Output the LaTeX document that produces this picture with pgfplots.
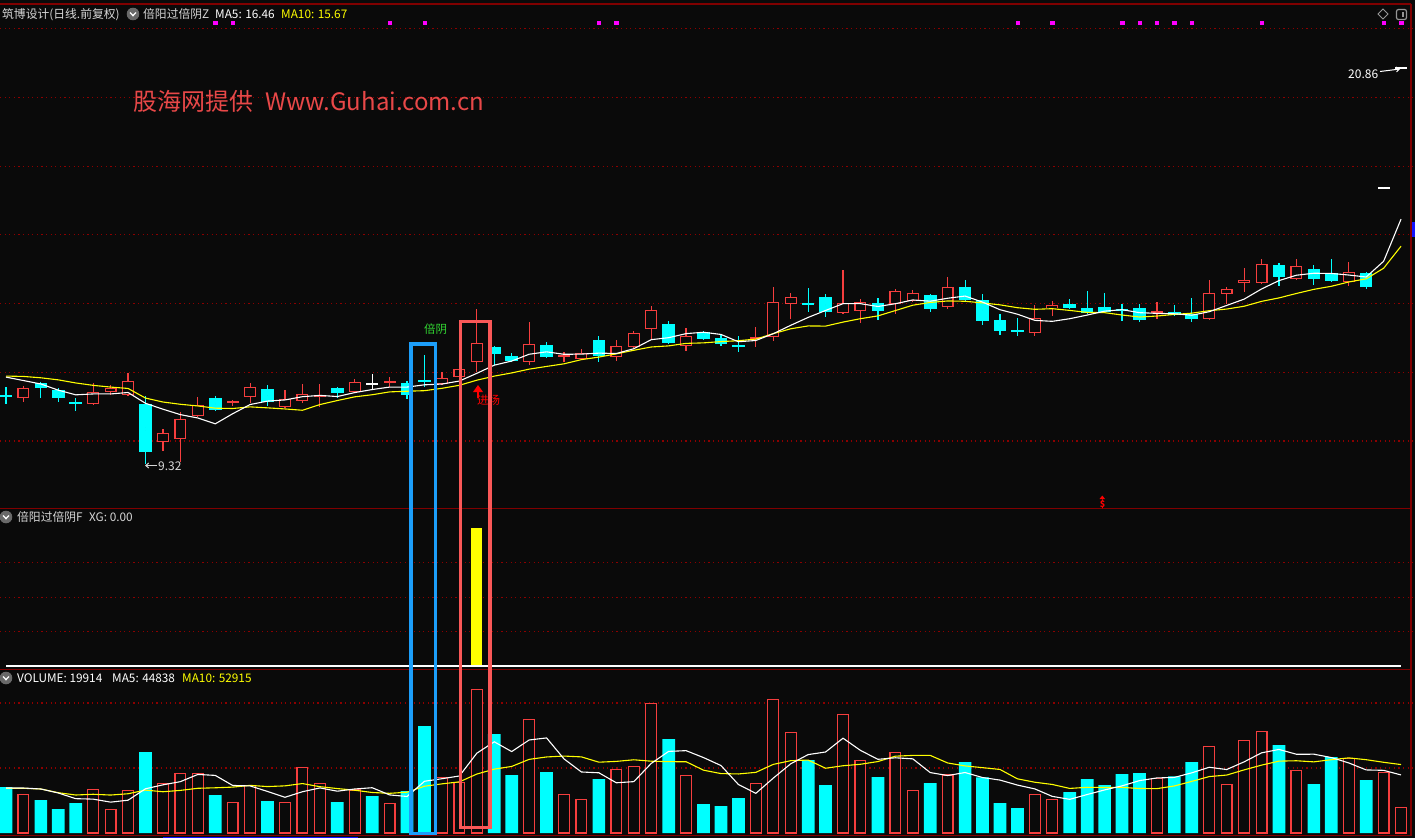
\documentclass[border=0pt]{standalone}
\usepackage{pgfplots}
\pgfplotsset{compat=1.18}
\usepackage{pgfplotstable}
\usepackage{fontspec}
\setmainfont{Noto Sans CJK SC}
\usetikzlibrary{arrows.meta}
\definecolor{bg}{RGB}{10,10,10}
\definecolor{upc}{RGB}{245,62,62}
\definecolor{dnc}{RGB}{0,255,255}
\definecolor{gridc}{RGB}{140,0,0}
\definecolor{sepc}{RGB}{128,0,0}
\definecolor{ylw}{RGB}{255,255,0}
\definecolor{mag}{RGB}{255,0,255}
\definecolor{boxblue}{RGB}{28,158,250}
\definecolor{boxred}{RGB}{250,88,88}
\definecolor{wm}{RGB}{232,72,72}
\definecolor{lbl}{RGB}{215,215,215}
\definecolor{grn}{RGB}{50,215,50}
\definecolor{icon}{RGB}{105,105,105}
\definecolor{icontwo}{RGB}{150,150,150}
\definecolor{tagblue}{RGB}{20,20,255}
\newcommand\fs[1]{\fontsize{#1bp}{#1bp}\selectfont}

% candles: x open high low close
\pgfplotstableread{
x o h l c
1 11.25 11.60 11.14 11.54
5 11.08 11.69 11.05 11.43
6 11.43 11.63 11.34 11.54
7 11.34 11.98 11.31 11.75
9 9.97 10.35 9.71 10.23
10 10.06 10.84 9.39 10.64
11 10.73 11.28 10.70 11.05
13 11.12 11.19 11.02 11.15
14 11.28 11.69 11.11 11.57
16 10.99 11.48 10.96 11.22
17 11.16 11.66 11.11 11.37
18 11.28 11.66 10.99 11.34
20 11.43 11.80 11.40 11.72
22 11.70 11.86 11.57 11.73
25 11.66 12.01 11.63 11.83
26 11.86 12.18 11.75 12.10
27 12.30 13.84 12.01 12.85
30 12.30 13.46 12.21 12.82
32 12.46 12.59 12.30 12.49
33 12.39 12.68 12.36 12.56
35 12.45 12.94 12.33 12.77
36 12.74 13.20 12.71 13.14
37 13.26 13.93 12.97 13.81
39 12.77 13.29 12.62 13.06
43 12.97 13.32 12.74 13.03
44 13.03 14.48 12.91 14.05
45 13.99 14.31 13.55 14.19
48 13.73 14.98 13.70 14.02
49 13.78 14.13 13.44 14.05
51 13.99 14.43 13.70 14.37
52 14.08 14.40 14.05 14.31
54 13.90 14.77 13.84 14.48
59 13.14 13.96 13.06 13.58
60 13.87 14.08 13.64 13.96
66 13.74 14.05 13.55 13.77
69 13.55 14.69 13.52 14.31
70 14.28 14.48 13.99 14.43
71 14.60 15.04 14.34 14.69
72 14.60 15.30 14.57 15.15
74 14.72 15.30 14.69 15.09
77 14.63 15.21 14.51 14.92
}\tabUp

\pgfplotstableread{
x o h l c
0 11.32 11.57 11.08 11.30
2 11.69 11.72 11.25 11.54
3 11.48 11.54 11.14 11.25
4 11.12 11.25 10.87 11.09
8 11.08 11.31 9.32 9.68
12 11.25 11.31 10.87 10.90
15 11.51 11.63 11.02 11.14
19 11.54 11.57 11.25 11.40
23 11.69 11.75 11.22 11.34
24 11.76 12.50 11.57 11.73
28 12.74 12.77 12.21 12.53
29 12.47 12.56 12.30 12.33
31 12.79 12.88 12.42 12.45
34 12.94 13.06 12.30 12.47
38 13.41 13.49 12.82 12.85
40 13.17 13.20 12.94 12.97
41 13.00 13.11 12.77 12.82
42 12.78 13.06 12.59 12.75
46 14.00 14.45 13.76 13.97
47 14.19 14.28 13.61 13.76
50 14.02 14.16 13.52 13.78
53 14.25 14.28 13.76 13.84
55 14.48 14.69 14.05 14.10
56 14.10 14.28 13.38 13.49
57 13.52 13.70 13.09 13.20
58 13.22 13.58 13.06 13.19
61 13.99 14.13 13.84 13.87
62 13.87 14.37 13.70 13.73
63 13.90 14.31 13.73 13.76
64 13.83 13.99 13.49 13.80
65 13.87 13.99 13.46 13.52
67 13.76 13.96 13.64 13.67
68 13.70 14.16 13.46 13.55
73 15.12 15.18 14.51 14.77
75 15.01 15.12 14.54 14.72
76 14.89 15.30 14.63 14.66
78 14.89 14.92 14.43 14.48
}\tabDn

\pgfplotstableread{
x o h l c
21 11.66 11.95 11.51 11.66
79 17.38 17.38 17.38 17.38
80 20.86 20.86 20.86 20.86
}\tabFl

\pgfplotstableread{
x ma5 ma10
0 11.86 11.89
1 11.76 11.88
2 11.66 11.84
3 11.48 11.78
4 11.344 11.69
5 11.370 11.62
6 11.370 11.57
7 11.412 11.53
8 11.098 11.25
9 10.926 11.135
10 10.768 11.069
11 10.670 11.020
12 10.500 10.956
13 10.794 10.946
14 11.062 10.994
15 11.162 10.965
16 11.196 10.933
17 11.290 10.895
18 11.328 11.061
19 11.294 11.178
20 11.410 11.286
21 11.498 11.347
22 11.570 11.430
23 11.570 11.449
24 11.636 11.465
25 11.658 11.534
26 11.746 11.622
27 11.970 11.770
28 12.208 11.889
29 12.328 11.982
30 12.526 12.092
31 12.596 12.171
32 12.524 12.247
33 12.530 12.369
34 12.558 12.443
35 12.548 12.537
36 12.686 12.641
37 12.950 12.737
38 13.008 12.769
39 13.126 12.842
40 13.166 12.857
41 13.102 12.894
42 12.890 12.920
43 12.926 12.967
44 13.124 13.125
45 13.368 13.267
46 13.598 13.350
47 13.800 13.345
48 13.998 13.462
49 13.998 13.561
50 13.916 13.642
51 13.996 13.797
52 14.106 13.953
53 14.070 14.034
54 14.156 14.077
55 14.220 14.068
56 14.044 14.020
57 13.822 13.964
58 13.692 13.881
59 13.512 13.834
60 13.484 13.852
61 13.560 13.802
62 13.666 13.744
63 13.780 13.736
64 13.824 13.668
65 13.736 13.610
66 13.716 13.638
67 13.704 13.685
68 13.662 13.721
69 13.764 13.794
70 13.946 13.841
71 14.130 13.923
72 14.426 14.065
73 14.670 14.166
74 14.826 14.295
75 14.884 14.415
76 14.878 14.504
77 14.832 14.629
78 14.774 14.722
79 15.232 15.029
80 16.460 15.672
}\tabMA

\pgfplotstableread{
x v
1 29770
5 33610
6 18230
7 32850
9 38230
10 45920
11 45920
13 23610
14 36380
16 23610
17 50540
18 38230
20 33080
22 22850
25 42850
26 39000
27 110530
30 87460
32 29770
33 25920
35 49000
36 51310
37 99770
39 44380
43 38230
44 102840
45 77460
48 91300
49 55920
51 62080
52 32850
54 44610
59 29770
60 25920
66 41770
69 66690
70 37460
71 71310
72 78230
74 48230
77 57460
79 46690
80 19914
}\tabVup

\pgfplotstableread{
x v
0 35380
2 25380
3 18460
4 23080
8 62310
12 29230
15 24610
19 23850
21 28460
23 32310
24 82300
28 76150
29 44610
31 46920
34 41540
38 72310
40 22310
41 20770
42 26920
46 56150
47 36920
50 43080
53 38460
55 54610
56 42850
57 23080
58 19230
61 31540
62 41540
63 36920
64 45380
65 46150
67 43610
68 54610
73 67690
75 37690
76 58460
78 40770
}\tabVdn

\pgfplotstableread{
x ma5 ma10
0 34610 34380
1 34610 34380
2 33850 33850
3 30770 31000
4 26414 29230
5 26060 29800
6 23752 29200
7 25246 30200
8 34016 33000
9 37046 31730
10 39508 32784
11 45046 34399
12 44322 34784
13 36582 35299
14 36212 36629
15 31950 35729
16 27488 36267
17 31750 38036
18 34674 35628
19 32168 34190
20 33862 32906
21 34832 31160
22 29294 30522
23 28110 31392
24 39800 35984
25 41754 37808
26 43862 39347
27 61398 45346
28 70166 49138
29 62628 51214
30 71550 56652
31 73134 58498
32 56982 59190
33 46936 58551
34 46322 54475
35 38630 55090
36 39508 56321
37 53508 55245
38 62786 54861
39 63354 54838
40 58016 48323
41 51908 45708
42 37338 45423
43 30522 46654
44 42214 52784
45 53244 55630
46 60320 56114
47 62320 49829
48 72934 51728
49 63550 52882
50 56674 54959
51 57860 59090
52 57046 59683
53 46478 59706
54 44216 53883
55 46522 51598
56 42676 50268
57 40722 48884
58 36876 41677
59 33908 39062
60 28170 37346
61 25908 34292
62 29600 35161
63 33138 35007
64 36260 35084
65 40306 34238
66 42352 34130
67 42766 36183
68 46304 39721
69 50566 43413
70 48828 44567
71 54736 48544
72 61660 52213
73 64276 55290
74 60584 55575
75 60630 54729
76 58060 56398
77 53906 57783
78 48522 56399
79 48214 54399
80 44658 52644
}\tabVMA

\pgfplotsset{
  panel/.style={scale only axis, width=1415bp, xmin=-0.3441, xmax=80.803,
    axis line style={draw=none}, tick style={draw=none}, xtick=\empty,
    yticklabels={}, scaled y ticks=false, ymajorgrids,
    major grid style={gridc, line width=1.1bp, dash pattern=on 1.2bp off 3.4bp},
    anchor=north west},
  wick/.style={forget plot, only marks, mark size=0pt, mark options={draw=none,fill=none},
    error bars/.cd, y dir=both, y explicit,
    error mark=none, error bar style={solid, line width=1.2bp, draw=#1}},
  body/.style 2 args={forget plot, only marks, mark size=0pt, mark options={draw=none,fill=none},
    error bars/.cd, y dir=both, y explicit,
    error mark=none, error bar style={solid, line width=#2, draw=#1}},
}

\begin{document}
\begin{tikzpicture}
\fill[bg] (0,0) rectangle (1415bp,-838bp);

% ---------------- price panel ----------------
\begin{axis}[panel, at={(0bp,0bp)}, height=508bp, ymin=8.0495, ymax=22.8384, ytick={10,12,...,22}]
\addplot[wick=upc] table[x=x, y expr={(\thisrow{h}+\thisrow{l})/2}, y error expr={(\thisrow{h}-\thisrow{l})/2}] {\tabUp};
\addplot[wick=dnc] table[x=x, y expr={(\thisrow{h}+\thisrow{l})/2}, y error expr={(\thisrow{h}-\thisrow{l})/2}] {\tabDn};
\addplot[wick=white] table[x=x, y expr={(\thisrow{h}+\thisrow{l})/2}, y error expr={(\thisrow{h}-\thisrow{l})/2}] {\tabFl};
\addplot[body={upc}{12bp}] table[x=x, y expr={(\thisrow{o}+\thisrow{c})/2}, y error expr={max(abs(\thisrow{c}-\thisrow{o})/2,0.018)}] {\tabUp};
\addplot[body={bg}{9.6bp}] table[x=x, y expr={(\thisrow{o}+\thisrow{c})/2}, y error expr={max(abs(\thisrow{c}-\thisrow{o})/2-0.035,0)}] {\tabUp};
\addplot[body={dnc}{12.6bp}] table[x=x, y expr={(\thisrow{o}+\thisrow{c})/2}, y error expr={max(abs(\thisrow{c}-\thisrow{o})/2,0.018)}] {\tabDn};
\addplot[body={white}{12bp}] table[x=x, y expr={(\thisrow{o}+\thisrow{c})/2}, y error expr={max(abs(\thisrow{c}-\thisrow{o})/2,0.018)}] {\tabFl};
\addplot[ylw, line width=1.1bp, mark=none] table[x=x, y=ma10] {\tabMA};
\addplot[white, line width=1.1bp, mark=none] table[x=x, y=ma5] {\tabMA};
\addplot[only marks, mark=square*, mark size=1.7bp, mag, mark options={draw=none}] coordinates {
(12,22.169) (13,22.169) (22,22.169) (24,22.169) (34,22.169) (35,22.169) (58,22.169) (60,22.169)
(64,22.169) (65,22.169) (66,22.169) (67,22.169) (68,22.169) (72,22.169) (79,22.169) (80,22.169)};
\end{axis}

% ---------------- indicator panel ----------------
\begin{axis}[panel, at={(0bp,-508bp)}, height=159bp, ymin=-0.00727, ymax=1.149, ytick={0.25,0.5,0.75}]
\addplot[ybar, bar width=11bp, bar shift=0pt, fill=ylw, draw=none] coordinates {(27,1)};
\addplot[white, line width=1.3bp, mark=none] coordinates {(0,0) (80,0)};
\end{axis}

% ---------------- volume panel ----------------
\begin{axis}[panel, at={(0bp,-667bp)}, height=171bp, ymin=-3846, ymax=127687, ytick={50000,100000}]
\addplot[ybar, bar width=12.7bp, bar shift=0pt, fill=dnc, draw=none] table[x=x, y=v] {\tabVdn};
\addplot[ybar, bar width=10.8bp, bar shift=0pt, fill=bg, draw=upc, line width=1.2bp] table[x=x, y=v] {\tabVup};
\addplot[ylw, line width=1.1bp, mark=none] table[x=x, y=ma10] {\tabVMA};
\addplot[white, line width=1.1bp, mark=none] table[x=x, y=ma5] {\tabVMA};
\end{axis}

% ---------------- decorations (pixel coordinates) ----------------
\begin{scope}[x=1bp, y=-1bp]
\draw[sepc, line width=1.3bp] (0,4) -- (1411,4);
\draw[sepc, line width=1.3bp] (0,508.3) -- (1411,508.3);
\draw[sepc, line width=1.3bp] (0,669.3) -- (1411,669.3);
\draw[sepc, line width=1.3bp] (0,835.8) -- (1411,835.8);
\draw[sepc, line width=1.3bp] (1411,4) -- (1411,836);
\draw[tagblue, line width=1.2bp] (163,837.6) -- (358,837.6);
\fill[tagblue] (1412,222) rectangle (1415,237);

% header texts
\node[anchor=base west, inner sep=0, text=lbl, font=\fs{11.8}] at (2,18.6) {筑博设计(日线.前复权)};
\fill[icon] (133,14) circle (6.3);
\draw[white, line width=1.3bp] (130,12.5) -- (133,15.6) -- (136,12.5);
\node[anchor=base west, inner sep=0, text=lbl, font=\fs{11.8}] at (143,18.6) {倍阳过倍阴Z};
\node[anchor=base west, inner sep=0, text=white, font=\fs{11.8}] at (215,18.4) {MA5: 16.46};
\node[anchor=base west, inner sep=0, text=ylw, font=\fs{11.8}] at (281,18.4) {MA10: 15.67};

\fill[icon] (6,517) circle (6.3);
\draw[white, line width=1.3bp] (3,515.5) -- (6,518.6) -- (9,515.5);
\node[anchor=base west, inner sep=0, text=lbl, font=\fs{11.8}] at (17,521.3) {倍阳过倍阴F};
\node[anchor=base west, inner sep=0, text=lbl, font=\fs{11.8}] at (89,521.3) {XG: 0.00};

\fill[icon] (6,678) circle (6.3);
\draw[white, line width=1.3bp] (3,676.5) -- (6,679.6) -- (9,676.5);
\node[anchor=base west, inner sep=0, text=white, font=\fs{11.8}] at (17,682.4) {VOLUME: 19914};
\node[anchor=base west, inner sep=0, text=white, font=\fs{11.8}] at (112,682.4) {MA5: 44838};
\node[anchor=base west, inner sep=0, text=ylw, font=\fs{11.8}] at (182,682.4) {MA10: 52915};

% watermark
\node[anchor=base west, inner sep=0, text=wm, font=\fs{24}] at (133,110) {股海网提供};
\node[anchor=base west, inner sep=0, text=wm, font=\fs{24}] at (265,110) {Www.Guhai.com.cn};

% chart labels
\node[anchor=base west, inner sep=0, text=grn, font=\fs{11.5}] at (424,333.5) {倍阴};
\fill[red] (473,392) -- (478,385) -- (483,392) -- cycle;
\draw[red, line width=1.8bp] (478,391) -- (478,398);
\node[anchor=base west, inner sep=0, text=red, font=\fs{11.5}] at (477,404.5) {进场};
\node[anchor=base west, inner sep=0, text=lbl, font=\fs{12}] at (158,470.8) {9.32};
\draw[lbl, line width=1bp, -{Straight Barb[length=3bp,width=5bp]}] (157,465.5) -- (145,465.5);
\node[anchor=base west, inner sep=0, text=white, font=\fs{12}] at (1348,78) {20.86};
\draw[white, line width=1bp, -{Straight Barb[length=3bp,width=5bp]}] (1380,71.5) -- (1400,69);
\fill[red] (1099.5,499) -- (1102.3,495.5) -- (1105,499) -- cycle;
\node[inner sep=0, text=red, font=\fs{9}\bfseries] at (1102.5,504) {\$};

% top-right icons
\draw[icontwo, line width=1bp] (1383,9) -- (1388,14) -- (1383,19) -- (1378,14) -- cycle;
\draw[icontwo, line width=1.2bp, rounded corners=2bp] (1396.5,9.5) rectangle (1406.5,19.5);
\fill[icontwo] (1401.8,11.8) rectangle (1404.3,17.2);

% highlight boxes
\draw[boxblue, line width=3.6bp] (411,344) rectangle (435.5,833.5);
\draw[boxred, line width=3.6bp] (460.5,321.5) rectangle (489.8,827.5);
\end{scope}

\pgfresetboundingbox
\path[use as bounding box] (0,0) rectangle (1415bp,-838bp);
\end{tikzpicture}
\end{document}
